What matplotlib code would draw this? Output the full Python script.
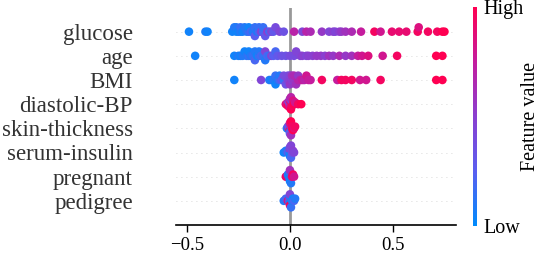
import numpy as np
import matplotlib
matplotlib.use("Agg")
import matplotlib.pyplot as plt
from matplotlib.colors import LinearSegmentedColormap

plt.rcParams['font.family'] = ['Liberation Serif', 'DejaVu Serif']

# features, top to bottom
features = ["glucose", "age", "BMI", "diastolic-BP", "skin-thickness",
            "serum-insulin", "pregnant", "pedigree"]

# SHAP values and normalised feature values (0 = low, 1 = high) per feature
glucose_shap = [-0.49, -0.41, -0.40,
                -0.28, -0.27, -0.26, -0.26, -0.25, -0.24, -0.24, -0.23, -0.22, -0.21,
                -0.20, -0.20, -0.19, -0.18, -0.17, -0.17, -0.16, -0.15, -0.15, -0.14,
                -0.13, -0.13, -0.12, -0.11, -0.10, -0.09, -0.08, -0.07, -0.05, -0.03,
                0.02, 0.06, 0.08, 0.10, 0.155, 0.19, 0.21, 0.22, 0.24, 0.25,
                0.27, 0.30, 0.345, 0.41, 0.44, 0.495, 0.53, 0.565, 0.62, 0.625,
                0.67, 0.715, 0.74, 0.75]
glucose_val = [0.05, 0.08, 0.05,
               0.05, 0.1, 0.05, 0.1, 0.05, 0.1, 0.15, 0.05, 0.1, 0.1,
               0.15, 0.05, 0.2, 0.1, 0.15, 0.25, 0.1, 0.2, 0.15, 0.45,
               0.2, 0.15, 0.3, 0.5, 0.2, 0.45, 0.3, 0.4, 0.45, 0.35,
               0.7, 0.45, 0.7, 0.65, 0.55, 0.45, 0.5, 0.45, 0.5, 0.55,
               0.6, 0.65, 0.75, 0.95, 0.8, 0.9, 0.9, 0.9, 0.95, 0.85,
               0.95, 0.95, 1.0, 1.0]

age_shap = [-0.46, -0.27, -0.25, -0.24, -0.23, -0.22, -0.21, -0.20, -0.20, -0.19,
            -0.18, -0.17, -0.17, -0.16, -0.15, -0.15, -0.14, -0.13, -0.12, -0.12,
            -0.11, -0.10, -0.09, -0.08, -0.07, -0.06, -0.04, -0.02, 0.0, 0.02,
            0.03, 0.05, 0.06, 0.08, 0.09, 0.11, 0.13, 0.15, 0.17, 0.19,
            0.21, 0.24, 0.27, 0.30, 0.33, 0.35, 0.38, 0.45, 0.52, 0.71, 0.74]
age_val = [0.05, 0.05, 0.1, 0.05, 0.1, 0.05, 0.1, 0.15, 0.05, 0.1,
           0.15, 0.1, 0.2, 0.05, 0.15, 0.1, 0.2, 0.15, 0.45, 0.1,
           0.2, 0.15, 0.45, 0.25, 0.2, 0.3, 0.35, 0.35, 0.4, 0.4,
           0.45, 0.45, 0.5, 0.45, 0.5, 0.5, 0.55, 0.55, 0.5, 0.6,
           0.55, 0.65, 0.55, 0.6, 0.75, 0.8, 0.85, 0.8, 0.95, 1.0, 1.0]

bmi_shap = [-0.27, -0.14, -0.10, -0.09, -0.08, -0.07, -0.07, -0.06, -0.05, -0.05,
            -0.04, -0.03, -0.03, -0.02, -0.01, -0.01, 0.0, 0.0, 0.0, 0.01,
            0.01, 0.02, 0.02, 0.03, 0.04, 0.04, 0.05, 0.06, 0.07, 0.08,
            0.09, 0.10, 0.155, 0.23, 0.25, 0.27, 0.30, 0.34, 0.37, 0.44,
            0.71, 0.74]
bmi_val = [0.05, 0.45, 0.1, 0.05, 0.1, 0.15, 0.05, 0.1, 0.2, 0.1,
           0.3, 0.15, 0.4, 0.35, 0.45, 0.4, 0.5, 0.45, 0.55, 0.5,
           0.6, 0.55, 0.65, 0.6, 0.7, 0.55, 0.7, 0.75, 0.7, 0.8,
           0.75, 0.75, 0.95, 0.75, 0.95, 0.95, 0.95, 0.8, 0.8, 0.95,
           1.0, 1.0]

dbp_shap = [-0.02, -0.015, -0.01, -0.01, -0.005, -0.005, 0.0, 0.0, 0.0, 0.0,
            0.005, 0.005, 0.01, 0.01, 0.01, 0.015, 0.02, 0.025, 0.04, 0.055]
dbp_val = [0.9, 0.85, 0.6, 1.0, 0.9, 0.5, 0.55, 0.95, 0.8, 0.6,
           1.0, 0.7, 0.9, 0.5, 0.95, 0.85, 1.0, 0.8, 0.95, 1.0]

skin_shap = [-0.015, -0.01, -0.005, -0.005, 0.0, 0.0, 0.0, 0.0, 0.0, 0.005,
             0.005, 0.01, 0.01, 0.015, 0.02, 0.025]
skin_val = [0.1, 0.45, 0.9, 0.2, 0.95, 0.5, 0.1, 0.85, 0.3, 1.0,
            0.6, 0.9, 0.95, 1.0, 0.9, 0.95]

serum_shap = [-0.03, -0.02, -0.01, -0.005, 0.0, 0.0, 0.0, 0.0, 0.0, 0.005,
              0.005, 0.01, 0.015, 0.02]
serum_val = [0.05, 0.1, 0.3, 0.15, 0.45, 0.1, 0.5, 0.05, 0.4, 0.2,
             0.45, 0.35, 0.5, 0.45]

preg_shap = [-0.02, -0.015, -0.01, -0.005, 0.0, 0.0, 0.0, 0.0, 0.0, 0.005,
             0.01, 0.015, 0.02]
preg_val = [0.95, 0.9, 0.1, 0.05, 0.05, 0.1, 0.15, 0.05, 0.6, 0.1,
            0.9, 0.95, 0.8]

ped_shap = [-0.03, -0.02, -0.01, -0.005, 0.0, 0.0, 0.0, 0.0, 0.0, 0.005,
            0.01, 0.015, 0.02, 0.025]
ped_val = [0.1, 0.2, 0.9, 0.45, 0.5, 0.05, 0.1, 0.95, 0.45, 0.15,
           0.1, 0.05, 0.2, 0.1]

shap_rows = [glucose_shap, age_shap, bmi_shap, dbp_shap, skin_shap,
             serum_shap, preg_shap, ped_shap]
val_rows = [glucose_val, age_val, bmi_val, dbp_val, skin_val,
            serum_val, preg_val, ped_val]

# shap-like red/blue colormap
red_blue = LinearSegmentedColormap.from_list(
    "red_blue", ["#008bfc", "#5a5ef0", "#8a3fd0", "#c41c9e", "#ff0052"])


def swarm(xs, bin_w=0.0125, row_height=0.4):
    # simple beeswarm stacking, as in shap's summary plot
    xs = np.asarray(xs)
    quant = np.round(xs / bin_w)
    order = np.argsort(quant, kind="stable")
    ys = np.zeros(len(xs))
    layer, last = 0, None
    for i in order:
        if quant[i] != last:
            layer = 0
        ys[i] = np.ceil(layer / 2) * ((layer % 2) * 2 - 1)
        layer += 1
        last = quant[i]
    ys *= 0.9 * (row_height / np.max(ys + 1))
    return ys


fig = plt.figure(figsize=(5.4, 2.56), dpi=100)
ax = fig.add_axes([176 / 540, 1 - 225 / 256, 280 / 540, 217.5 / 256])

n = len(features)
for k, (xs, vs) in enumerate(zip(shap_rows, val_rows)):
    pos = n - 1 - k
    ax.axhline(pos, color="#cccccc", lw=0.6, dashes=(1, 5), zorder=-1)
    ys = swarm(xs)
    ax.scatter(xs, pos + ys, c=vs, cmap=red_blue, vmin=0, vmax=1,
               s=38, linewidths=0, zorder=3)

ax.axvline(0, color="#999999", lw=2, zorder=-1)

ax.set_xlim(-0.553, 0.806)
ax.set_ylim(-1, n)
ax.set_yticks(range(n))
ax.set_yticklabels(features[::-1], fontsize=16.5, color="#333333")
ax.tick_params(axis="y", length=0, pad=31)
ax.set_xticks([-0.5, 0.0, 0.5])
ax.tick_params(axis="x", labelsize=13.5, length=5, width=1, pad=4)
for s in ["top", "right", "left"]:
    ax.spines[s].set_visible(False)
ax.spines["bottom"].set_linewidth(1.2)

# colorbar
cax = fig.add_axes([473 / 540, 1 - 226 / 256, 3.5 / 540, 219 / 256])
sm = plt.cm.ScalarMappable(cmap=red_blue, norm=plt.Normalize(0, 1))
cb = fig.colorbar(sm, cax=cax, ticks=[0, 1])
cb.set_ticklabels(["Low", "High"])
cb.ax.tick_params(length=0, labelsize=14.5, pad=5)
cb.outline.set_visible(False)
cb.set_label("Feature value", size=14.5, labelpad=-2)

fig.savefig("out.png", dpi=100)
